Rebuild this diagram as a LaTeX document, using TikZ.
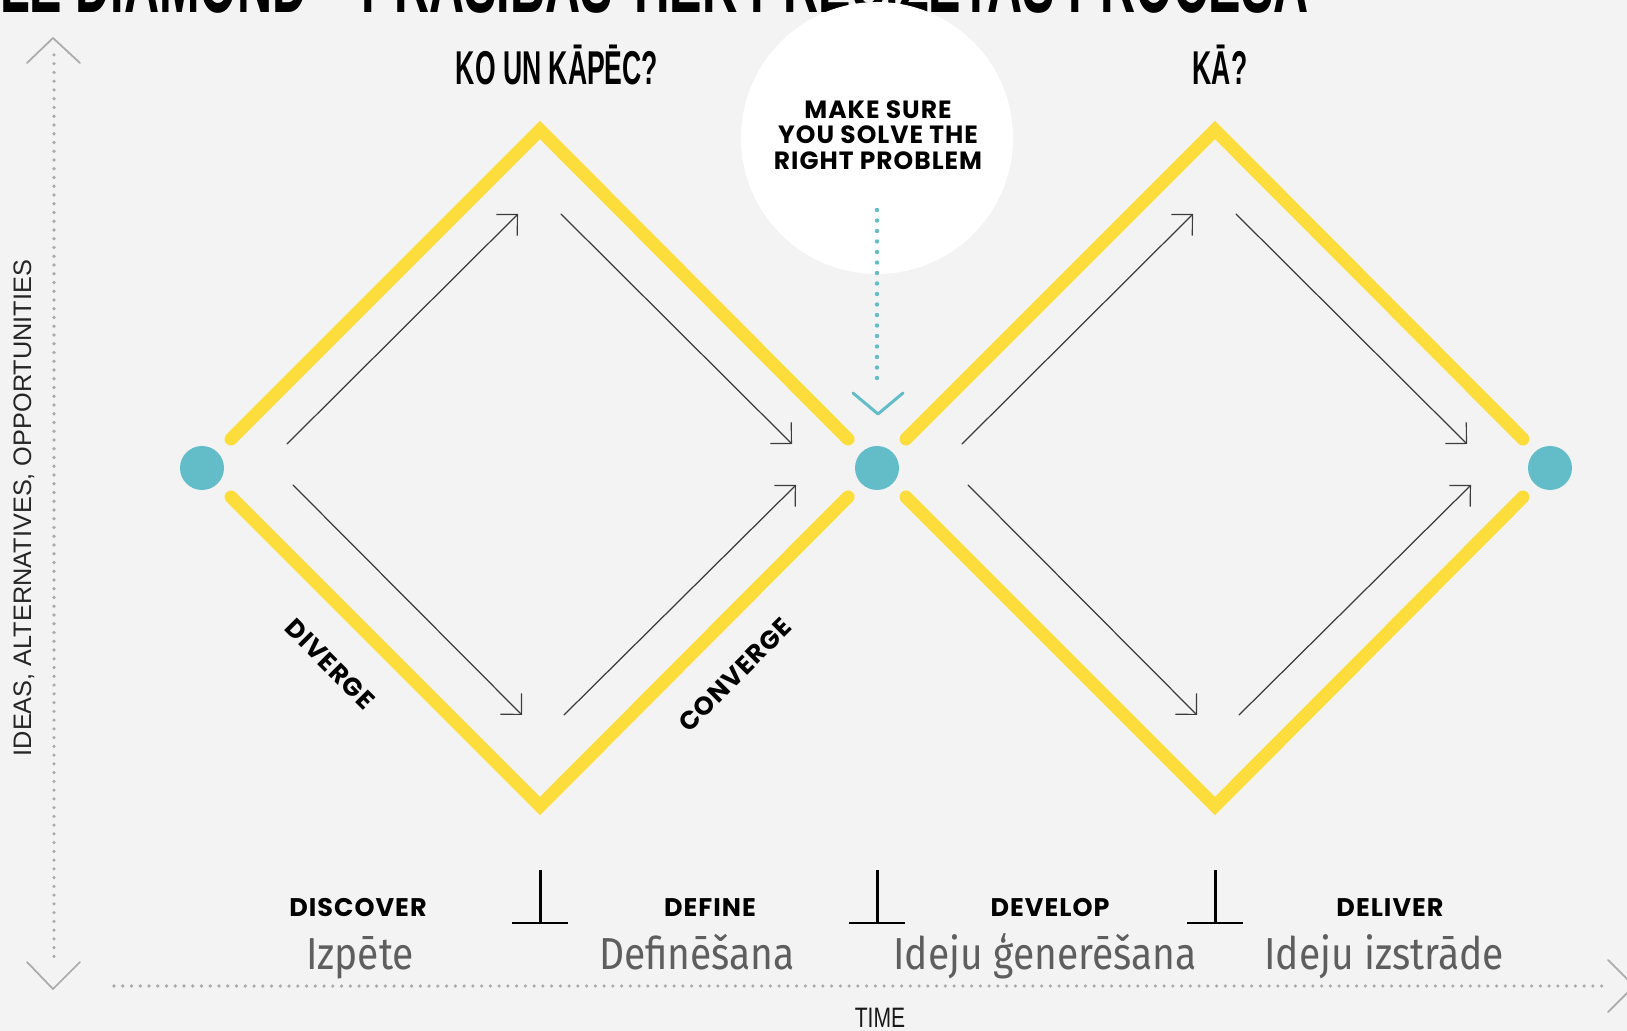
\documentclass[tikz,border=0pt]{standalone}
\usepackage{fontspec}
\usepackage{graphicx}
\setmainfont{Liberation Sans}
\newfontfamily\geofont{Poppins}[LetterSpace=4]
\newfontfamily\plexfont{Fira Sans}
\usetikzlibrary{arrows.meta}
\definecolor{DiamondYellow}{HTML}{FCDD3B}
\definecolor{DotTeal}{HTML}{62BDC8}
\definecolor{AxisGray}{HTML}{ABABAB}
\definecolor{PageGray}{HTML}{F3F3F3}
\definecolor{LabelGray}{HTML}{5E5E5E}
\definecolor{ArrowGray}{HTML}{3C3C3C}
\newcommand{\narrow}[2]{\scalebox{#1}[1]{#2}}

\begin{document}
\begin{tikzpicture}[x=0.2mm,y=-0.2mm,line cap=round,line join=round,
    yellowline/.style={DiamondYellow,line width=7.4pt,line cap=round,line join=miter},
    thinarrow/.style={ArrowGray,line width=0.7pt,-{Straight Barb[angle=90:4.2mm]}},
    tealdot/.style={circle,fill=DotTeal,minimum size=8.8mm,inner sep=0pt},
    axisdots/.style={AxisGray,line width=2pt,dash pattern=on 0pt off 1.75mm},
    chevron/.style={AxisGray,line width=1pt},
    tick/.style={black,line width=1.7pt,line cap=butt},
    phase/.style={font=\geofont\bfseries\fontsize{14.5}{16}\selectfont,inner sep=0pt},
    phaselv/.style={font=\plexfont\fontsize{25.5}{28}\selectfont,text=LabelGray,inner sep=0pt},
    heading/.style={font=\bfseries\fontsize{27}{30}\selectfont,inner sep=0pt,anchor=base}]
  \useasboundingbox (0,0) rectangle (1627,1031);
  \fill[PageGray] (0,0) rectangle (1627,1031);
  \clip (0,0) rectangle (1627,1031);
  % cropped title
  \node[anchor=base east,inner sep=0pt,font=\bfseries\fontsize{50}{50}\selectfont] (title) at (1309,13)
    {\narrow{0.553}{DOUBLE DIAMOND -- PRASĪBAS TIEK PRECIZĒTAS PROCESĀ}};
  % bubble
  \fill[white] (877,138) circle (136);
  \node[align=center,font=\geofont\bfseries\fontsize{14.2}{14.6}\selectfont,inner sep=0pt] (hint) at (878,135)
    {MAKE SURE\\YOU SOLVE THE\\RIGHT PROBLEM};
  \coordinate (hintA) at (877,210); \coordinate (hintB) at (877,388);
  \draw[DotTeal,line width=2.5pt,dash pattern=on 0pt off 2.1mm] (hintA) -- (hintB);
  \draw[DotTeal,line width=1.7pt] (853,393) -- (878,414) -- (903,393);
  % diamonds
  \foreach \i/\dx in {1/0,2/675}{
    \begin{scope}[xshift=\dx*0.2mm]
      \coordinate (T\i) at (540,130); \coordinate (B\i) at (540,806);
      \draw[yellowline] (231,439) -- (T\i) -- (848,439);
      \draw[yellowline] (231,497) -- (B\i) -- (848,497);
      \draw[thinarrow] (287,444) -- (518,214);
      \draw[thinarrow] (561,214) -- (792,444);
      \draw[thinarrow] (293,485) -- (522,715);
      \draw[thinarrow] (564,715) -- (796,485);
    \end{scope}
  }
  \node[tealdot] (start) at (202,468) {}; \node[tealdot] (mid) at (877,468) {}; \node[tealdot] (end) at (1550,468) {};
  \node[heading] (why) at (557,85) {\narrow{0.56}{KO UN KĀPĒC?}};
  \node[heading] (how) at (1220,85) {\narrow{0.56}{KĀ?}};
  \node[phase,rotate=-45] (diverge) at (330,664) {DIVERGE};
  \node[phase,rotate=45] (converge) at (735,675) {CONVERGE};
  % phases
  \foreach \x in {540,877,1215} \draw[tick] (\x,870) -- (\x,923) (\x-28,923) -- (\x+28,923);
  \foreach \n/\x/\lv/\y in {discover/358/Izpēte/360,define/710/Definēšana/697,develop/1050/Ideju ģenerēšana/1045,deliver/1390/Ideju izstrāde/1384}{
    \node[phase,anchor=base] (\n) at (\x,916) {\MakeUppercase{\n}};
    \node[phaselv,anchor=base] (\n lv) at (\y,969) {\narrow{0.87}{\lv}};
  }
  % axes
  \draw[axisdots] (54,55) -- (54,965);
  \draw[axisdots] (114,986) -- (1605,986);
  \draw[chevron] (27,63) -- (53,38) -- (80,63);
  \draw[chevron] (27,962) -- (53,989) -- (80,962);
  \draw[chevron] (1608,960) -- (1634,986) -- (1608,1012);
  \node[rotate=90,text=black!85,font=\fontsize{14.4}{16}\selectfont,inner sep=0pt] (ideas) at (24,508) {IDEAS, ALTERNATIVES, OPPORTUNITIES};
  \node[anchor=base,text=black!90,font=\fontsize{16}{18}\selectfont,inner sep=0pt,text depth=0pt] (time) at (880,1027) {\narrow{0.75}{TIME}};
\end{tikzpicture}
\end{document}
